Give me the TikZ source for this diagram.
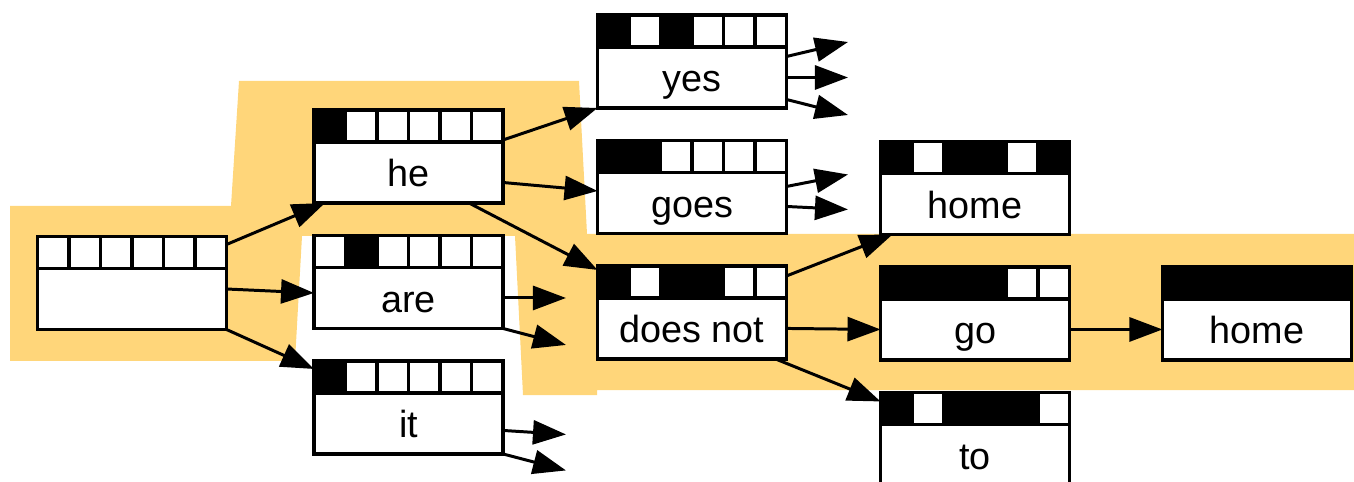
\documentclass[tikz,border=0pt]{standalone}
\usepackage{fontspec}
\setmainfont{Liberation Sans}
\usetikzlibrary{positioning, arrows.meta}
\definecolor{hilite}{RGB}{255,214,122}

\begin{document}
\begin{tikzpicture}[x=0.02cm, y=-0.02cm,
  hyp/.style={draw, rectangle, fill=white, minimum width=3.78cm,
    minimum height=1.22cm, inner sep=0pt, outer sep=0pt, line width=1.8pt,
    text height=18pt, text depth=2pt, font=\fontsize{21.5}{24}\selectfont},
  cell/.style={draw, rectangle, minimum width=0.63cm, minimum height=0.64cm,
    inner sep=0pt, outer sep=0pt, line width=1.8pt},
  arrow/.style={-{Triangle[length=0.66cm, width=0.48cm]}, line width=1.7pt}
]
\useasboundingbox (0,0) rectangle (1354,482);
\clip (0,0) rectangle (1354,482);

% Highlighted path through the search graph
\fill[hilite] (10,206) -- (231,206) -- (239,81) -- (579,81) -- (587,234)
  -- (1354,234) -- (1354,390) -- (597,390) -- (597,395) -- (523,395)
  -- (515,236) -- (302,236) -- (295,361) -- (10,361) -- cycle;

% Column 1: empty hypothesis
\node[hyp] (start) at (132,299) {};

% Column 2: first word
\node[hyp] (he) at (408.5,172.5) {he};
\node[hyp, below=1.29cm of he] (are) {are};
\node[hyp, below=1.29cm of are] (it) {it};

% Column 3: second word
\node[hyp] (yes) at (692,77.5) {yes};
\node[hyp, below=1.29cm of yes] (goes) {goes};
\node[hyp, below=1.29cm of goes] (doesnot) {does not};

% Column 4: third word
\node[hyp] (home) at (975,204) {home};
\node[hyp, below=1.29cm of home] (go) {go};
\node[hyp, below=1.29cm of go] (to) {to};

% Column 5: final word
\node[hyp, right=1.86cm of go] (homeb) {home};

% Coverage strips above each hypothesis
\foreach \n/\bits in {start/{0,0,0,0,0,0}, he/{1,0,0,0,0,0},
    are/{0,1,0,0,0,0}, it/{1,0,0,0,0,0}, yes/{1,0,1,0,0,0},
    goes/{1,1,0,0,0,0}, doesnot/{1,0,1,1,0,0}, home/{1,0,1,1,0,1},
    go/{1,1,1,1,0,0}, to/{1,0,1,1,1,0}, homeb/{1,1,1,1,1,1}}
  \foreach \b [count=\i] in \bits
    \node[cell, fill=black!\b00]
      at ([xshift=\i*0.63cm-0.315cm, yshift=0.32cm]\n.north west) {};

% Open ends of expansions not followed
\coordinate (are-a) at ([xshift=1.26cm]are.east);
\coordinate (are-b) at ([xshift=1.26cm, yshift=-0.33cm]are.south east);
\coordinate (it-a) at ([xshift=1.26cm, yshift=-0.22cm]it.east);
\coordinate (it-b) at ([xshift=1.26cm, yshift=-0.33cm]it.south east);
\coordinate (yes-a) at ([xshift=1.23cm, yshift=0.71cm]yes.east);
\coordinate (yes-b) at ([xshift=1.23cm]yes.east);
\coordinate (yes-c) at ([xshift=1.23cm, yshift=-0.75cm]yes.east);
\coordinate (goes-a) at ([xshift=1.23cm, yshift=0.57cm]goes.east);
\coordinate (goes-b) at ([xshift=1.23cm, yshift=-0.13cm]goes.east);

% Expansions
\draw[arrow] ([yshift=0.48cm]start.north east) -- ([xshift=0.22cm]he.south west);
\draw[arrow] ([yshift=0.2cm]start.east) -- ([yshift=0.1cm]are.west);
\draw[arrow] (start.south east) -- ([yshift=0.48cm]it.north west);
\draw[arrow] ([yshift=0.04cm]he.north east) -- (yes.south west);
\draw[arrow] ([yshift=-0.2cm]he.east) -- ([yshift=0.24cm]goes.west);
\draw[arrow] ([xshift=-0.68cm]he.south east) -- ([yshift=0.56cm]doesnot.north west);
\draw[arrow] (are.east) -- (are-a);
\draw[arrow] (are.south east) -- (are-b);
\draw[arrow] ([yshift=-0.14cm]it.east) -- (it-a);
\draw[arrow] (it.south east) -- (it-b);
\draw[arrow] ([yshift=0.42cm]yes.east) -- (yes-a);
\draw[arrow] (yes.east) -- (yes-b);
\draw[arrow] ([yshift=-0.44cm]yes.east) -- (yes-c);
\draw[arrow] ([yshift=0.33cm]goes.east) -- (goes-a);
\draw[arrow] ([yshift=-0.07cm]goes.east) -- (goes-b);
\draw[arrow] ([yshift=0.44cm]doesnot.north east) -- ([xshift=0.24cm]home.south west);
\draw[arrow] (doesnot.east) -- (go.west);
\draw[arrow] ([xshift=-0.22cm]doesnot.south east) -- ([yshift=0.46cm]to.north west);
\draw[arrow] (go.east) -- (homeb.west);

\end{tikzpicture}
\end{document}
